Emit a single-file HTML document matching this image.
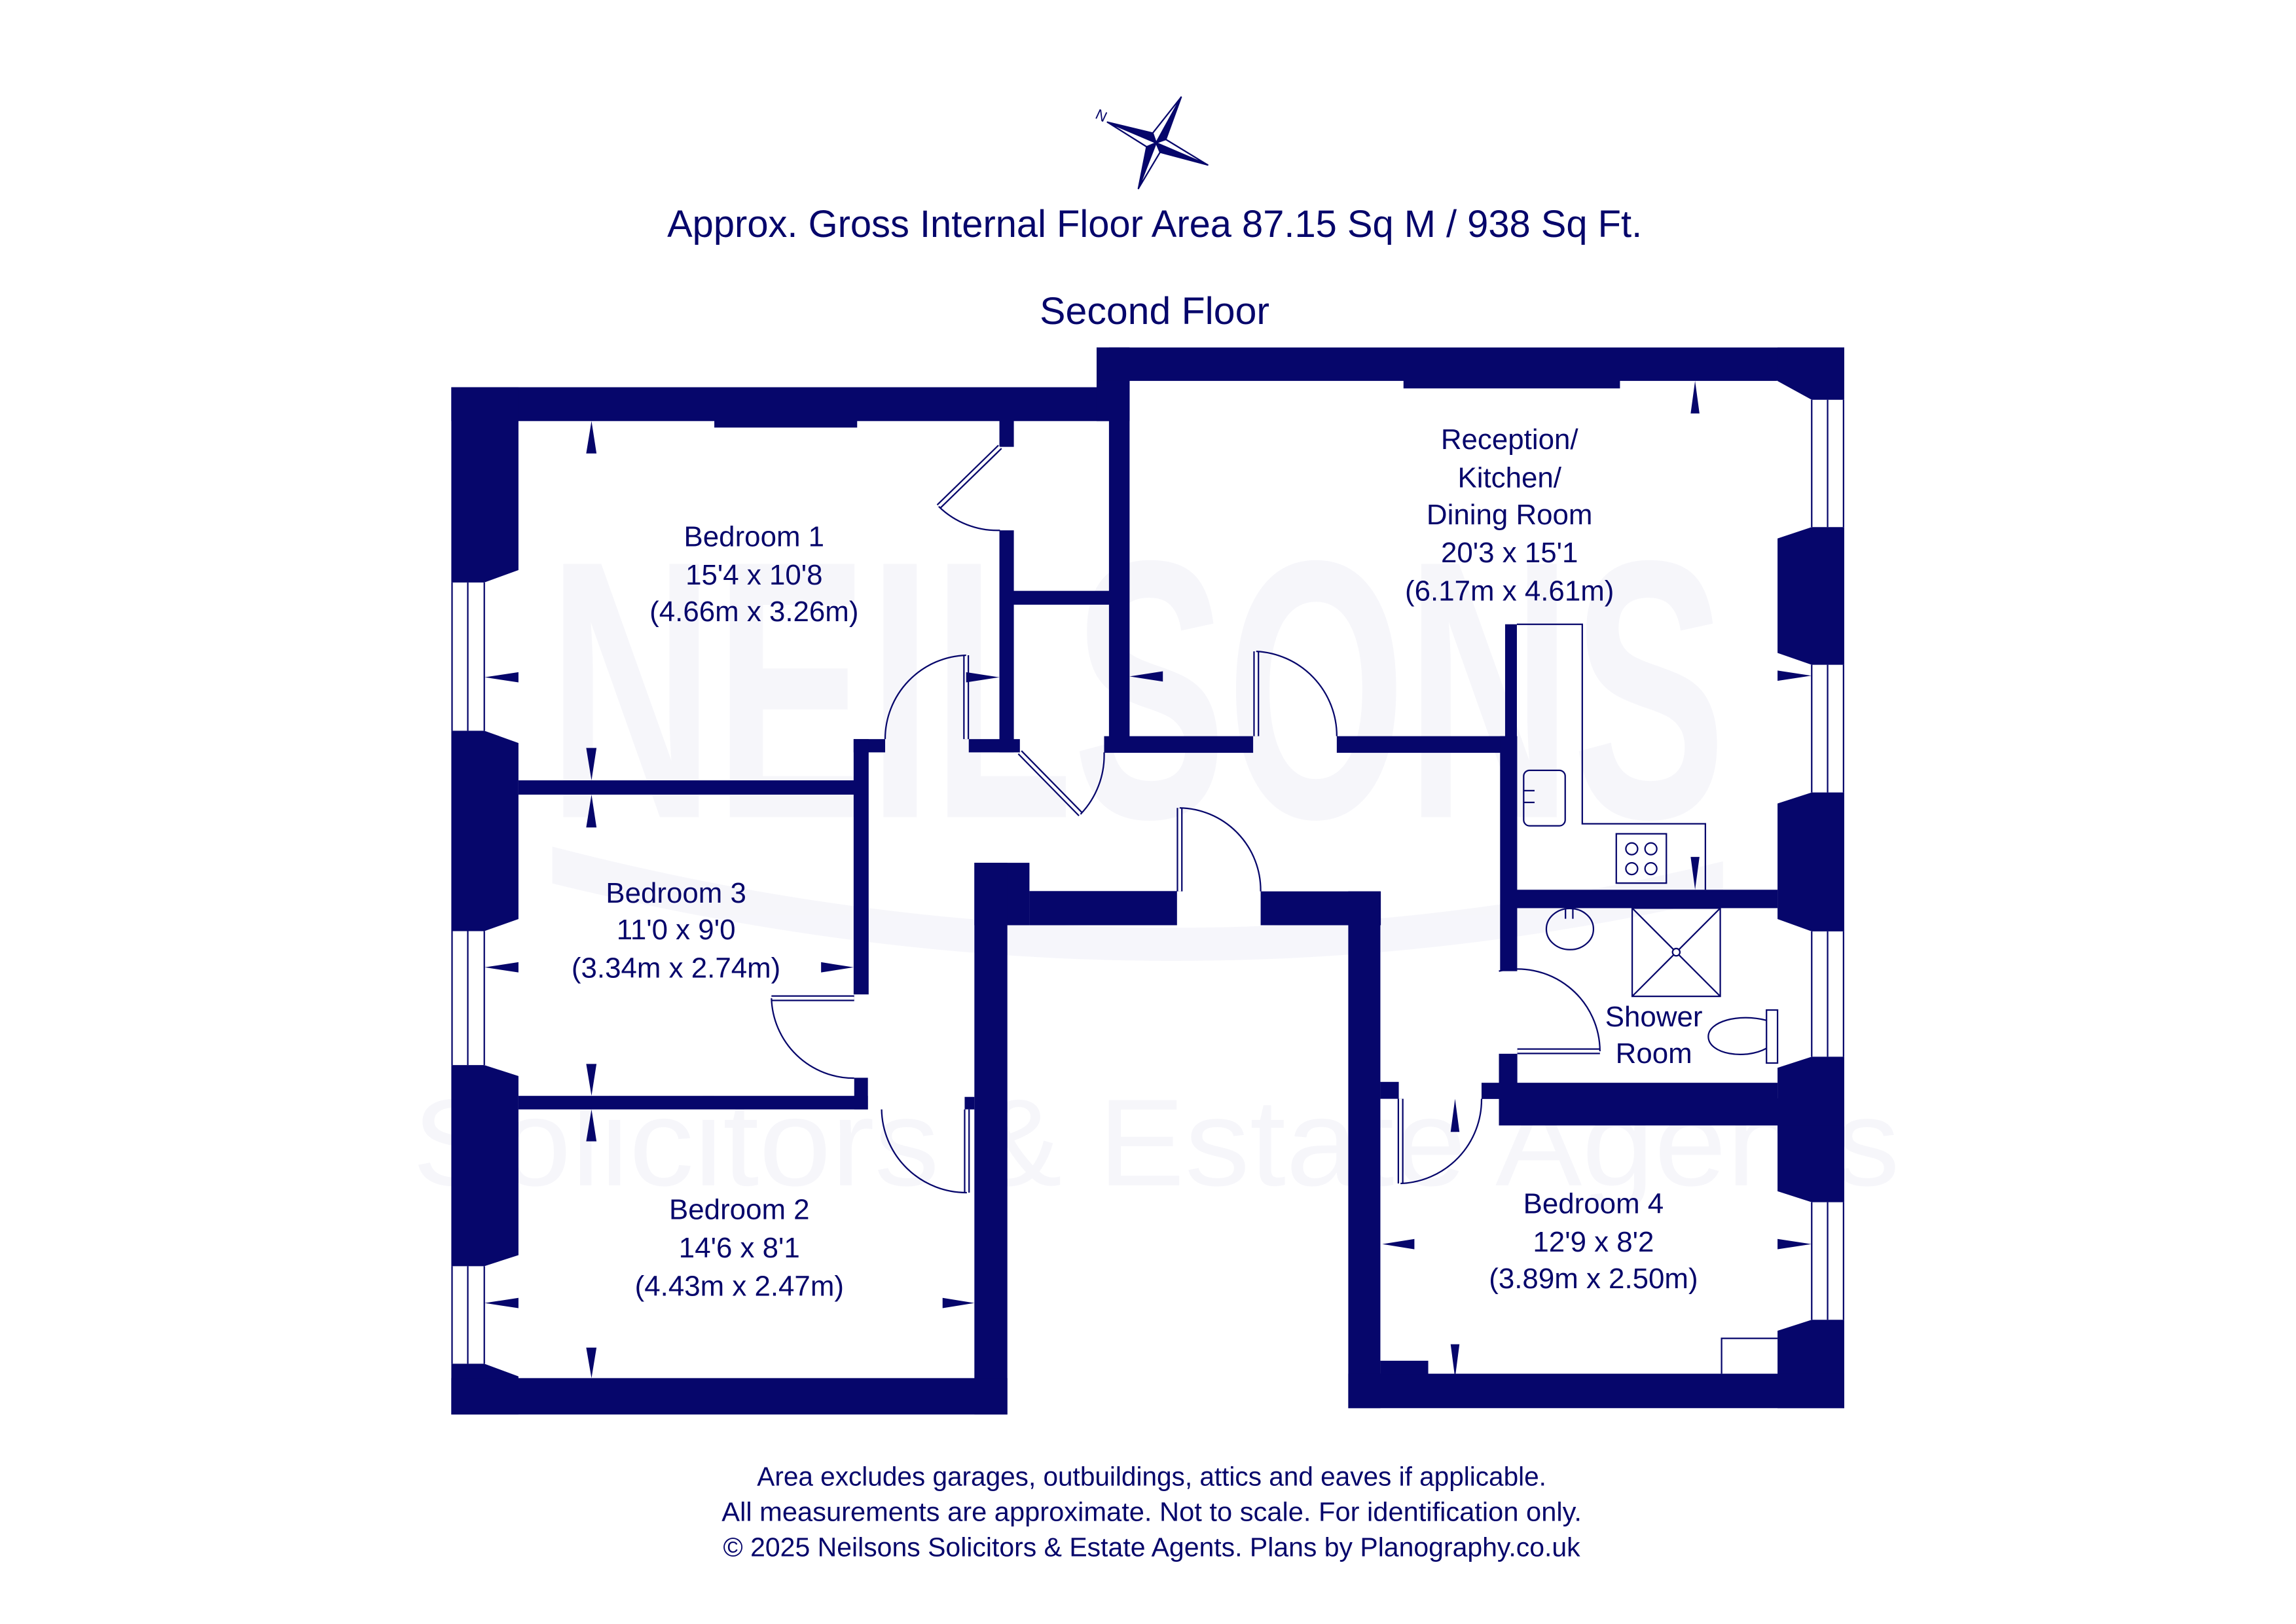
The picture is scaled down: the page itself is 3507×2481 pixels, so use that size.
<!DOCTYPE html>
<html><head><meta charset="utf-8"><style>
html,body{margin:0;padding:0;background:#fff}
svg{display:block}
text{font-family:"Liberation Sans",sans-serif;fill:#06066b}
</style></head><body>
<svg width="3507" height="2481" viewBox="0 0 1559 1103" xmlns="http://www.w3.org/2000/svg">
<rect width="1559" height="1103" fill="#fff"/>
<!-- watermark -->
<g opacity="0.45">
<path d="M375 575 Q780 680 1170 585 L1170 610 Q780 700 375 600 Z" fill="#ececf6"/>
<text x="372" y="555" font-size="250" font-weight="bold" textLength="800" lengthAdjust="spacingAndGlyphs" style="fill:#ececf6">NEILSONS</text>
<text x="280" y="805" font-size="84" textLength="1010" lengthAdjust="spacingAndGlyphs" style="fill:#ececf6">Solicitors &amp; Estate Agents</text>
</g>
<!-- compass -->
<g stroke="#06066b" stroke-width="1" stroke-linejoin="round">
<polygon points="785,97 802,66 791.6,94.7" fill="#06066b"/>
<polygon points="785,97 802,66 782.7,90.4" fill="#fff"/>
<polygon points="785,97 820,112 787.7,103.4" fill="#06066b"/>
<polygon points="785,97 820,112 791.6,94.7" fill="#fff"/>
<polygon points="785,97 773,128 778.6,99.7" fill="#06066b"/>
<polygon points="785,97 773,128 787.7,103.4" fill="#fff"/>
<polygon points="785,97 752,83 782.7,90.4" fill="#06066b"/>
<polygon points="785,97 752,83 778.6,99.7" fill="#fff"/>
</g>
<text x="744" y="82" font-size="10" transform="rotate(25 748 79)">N</text>
<text x="784" y="161" font-size="26" text-anchor="middle" textLength="662" lengthAdjust="spacingAndGlyphs">Approx. Gross Internal Floor Area 87.15 Sq M / 938 Sq Ft.</text>
<text x="784" y="220" font-size="26" text-anchor="middle" textLength="156" lengthAdjust="spacingAndGlyphs">Second Floor</text>

<!-- walls -->
<g fill="#06066b">
<rect x="306.4" y="263" width="446.6" height="23"/>
<rect x="744.6" y="236" width="22.4" height="50"/>
<rect x="753" y="236" width="14" height="275"/>
<rect x="744.6" y="236" width="507.7" height="22.7"/>
<rect x="485" y="285" width="97" height="5.4"/>
<rect x="953" y="258" width="147" height="5.8"/>
<rect x="306.4" y="263" width="45.6" height="697.7"/>
<rect x="1207" y="236" width="45.3" height="720.4"/>
<rect x="678.6" y="285" width="9.8" height="18.5"/>
<rect x="678.6" y="360.2" width="9.8" height="150.8"/>
<rect x="688" y="401.3" width="66" height="9.4"/>
<rect x="657.8" y="502" width="34.7" height="9"/>
<rect x="579.6" y="502" width="21.4" height="9"/>
<rect x="579.6" y="502" width="10.2" height="173.4"/>
<rect x="749.7" y="500" width="101.2" height="11.3"/>
<rect x="907.7" y="500" width="122.3" height="11.3"/>
<rect x="1022" y="424" width="8" height="80"/>
<rect x="1018.6" y="500" width="11.6" height="159.6"/>
<rect x="1017.8" y="715.7" width="12.5" height="31"/>
<rect x="1030" y="604.3" width="177" height="12.5"/>
<rect x="352" y="530" width="237" height="9.7"/>
<rect x="352" y="744.3" width="237.3" height="9.2"/>
<rect x="580" y="732" width="9.3" height="21.5"/>
<rect x="655" y="745" width="6.6" height="8.5"/>
<rect x="661.6" y="586" width="37.4" height="42.4"/>
<rect x="699" y="605.2" width="100.2" height="23.2"/>
<rect x="661.6" y="586" width="22.4" height="374.7"/>
<rect x="306.4" y="936" width="377.6" height="24.7"/>
<rect x="856" y="605.4" width="81.6" height="23"/>
<rect x="915.5" y="605.4" width="21.8" height="351"/>
<rect x="915.5" y="933" width="336.8" height="23.4"/>
<rect x="937.3" y="924.2" width="32.5" height="9"/>
<rect x="937.3" y="734.8" width="12.5" height="11.5"/>
<rect x="1006" y="735.4" width="201" height="11"/>
<rect x="1017.8" y="746" width="234.5" height="18.4"/>
</g>
<!-- windows -->
<g fill="#fff" stroke="none">
<polygon points="306,395.6 328.8,395.6 352.5,387 352.5,504.8 328.8,496.3 306,496.3"/>
<polygon points="306,632.4 328.8,632.4 352.5,624 352.5,731 328.8,723.4 306,723.4"/>
<polygon points="306,860 328.8,860 352.5,852.3 352.5,935 328.8,926.2 306,926.2"/>
<polygon points="1253,271.5 1230.2,271.5 1206.5,258.5 1206.5,365.9 1230.2,358 1253,358"/>
<polygon points="1253,451.5 1230.2,451.5 1206.5,443.3 1206.5,545.9 1230.2,538.2 1253,538.2"/>
<polygon points="1253,632.6 1230.2,632.6 1206.5,624 1206.5,725.4 1230.2,717.7 1253,717.7"/>
<polygon points="1253,816.5 1230.2,816.5 1206.5,808.9 1206.5,904 1230.2,896.4 1253,896.4"/>
</g>
<g stroke="#06066b" stroke-width="1" fill="none">
<path d="M306.9 395.6V496.3M317.6 395.6V496.3M328.8 395.6V496.3"/>
<path d="M306.9 632.4V723.4M317.6 632.4V723.4M328.8 632.4V723.4"/>
<path d="M306.9 860V926.2M317.6 860V926.2M328.8 860V926.2"/>
<path d="M1251.8 271.5V358M1241 271.5V358M1230.2 271.5V358"/>
<path d="M1251.8 451.5V538.2M1241 451.5V538.2M1230.2 451.5V538.2"/>
<path d="M1251.8 632.6V717.7M1241 632.6V717.7M1230.2 632.6V717.7"/>
<path d="M1251.8 816.5V896.4M1241 816.5V896.4M1230.2 816.5V896.4"/>
</g>
<!-- doors -->
<g stroke="#06066b" fill="none">
<g stroke-width="4"><path d="M679 303.5L637.4 344M656 502V445M692.5 511L733.7 553M853 500V442.4M801 605.4V548.7M580 678H523.8M656.5 753.5V810M1030.3 714H1086.4M951 746.3V803.8"/></g>
<g stroke-width="2" stroke="#fff"><path d="M679 303.5L637.4 344M656 502V445M692.5 511L733.7 553M853 500V442.4M801 605.4V548.7M580 678H523.8M656.5 753.5V810M1030.3 714H1086.4M951 746.3V803.8"/></g>
<g stroke-width="1">
<path d="M637.4 344A57 57 0 0 0 679 360.2"/>
<path d="M656 445A57 57 0 0 0 601 502"/>
<path d="M733.7 553A58 58 0 0 0 749.7 511"/>
<path d="M853 442.4A57.5 57.5 0 0 1 907.7 500"/>
<path d="M801 548.7A56 56 0 0 1 856 605.4"/>
<path d="M523.8 678A56 56 0 0 0 580 732.3"/>
<path d="M598.6 753.5A57.5 57.5 0 0 0 656.5 810"/>
<path d="M1086.4 714A56 56 0 0 0 1017.8 659.6"/>
<path d="M951 803.8A57 57 0 0 0 1006 746.3"/>
<path d="M1030 424H1074.4V559.5H1158V604.3"/>
<rect x="1034.6" y="523.2" width="28.2" height="37.7" rx="4"/>
<path d="M1034.6 537H1042M1034.6 545H1042"/>
<rect x="1097.5" y="566.3" width="34" height="33.5"/>
<circle cx="1108" cy="576.5" r="4"/><circle cx="1121" cy="576.5" r="4"/>
<circle cx="1108" cy="590" r="4"/><circle cx="1121" cy="590" r="4"/>
<ellipse cx="1066" cy="631" rx="16" ry="14"/>
<path d="M1063 617V624M1068 617V624"/>
<rect x="1108.3" y="616.8" width="59.8" height="59.9"/>
<path d="M1108.3 616.8L1168.1 676.7M1168.1 616.8L1108.3 676.7"/>
<circle cx="1138.2" cy="646.7" r="2.5" fill="#fff"/>
<rect x="1199.5" y="686" width="7.5" height="36"/>
<path d="M1199.5 693C1180 688 1160 694 1160 704C1160 716 1185 720 1199.5 712"/>
<path d="M1207 909H1169V933"/>
</g>
</g>
<!-- dimension arrows -->
<g fill="#06066b">
<polygon points="401.6,286 398,308 405,308"/>
<polygon points="401.6,530 398,508 405,508"/>
<polygon points="401.6,539.7 398,562 405,562"/>
<polygon points="401.6,744.3 398,722.6 405,722.6"/>
<polygon points="401.6,753.5 398,775.2 405,775.2"/>
<polygon points="401.6,936 398,915.3 405,915.3"/>
<polygon points="329,460 352,456.5 352,463.5"/>
<polygon points="678.6,460 656,456.5 656,463.5"/>
<polygon points="767,459.4 789.6,455.9 789.6,462.9"/>
<polygon points="1230,458.9 1207,455.4 1207,462.4"/>
<polygon points="1151,258.7 1148,280.8 1154,280.8"/>
<polygon points="1151,604.3 1148,582 1154,582"/>
<polygon points="329,657 352,653.5 352,660.5"/>
<polygon points="579.6,657 557.5,653.5 557.5,660.5"/>
<polygon points="329,885 352,881.5 352,888.5"/>
<polygon points="661.6,885 640,881.5 640,888.5"/>
<polygon points="938.6,845 960.4,841.5 960.4,848.5"/>
<polygon points="1230,845 1207,841.5 1207,848.5"/>
<polygon points="988,746.3 985,768.8 991,768.8"/>
<polygon points="988,936 985,913 991,913"/>
</g>
<!-- labels -->
<g font-size="19.5" text-anchor="middle">
<text x="512" y="371">Bedroom 1</text>
<text x="512" y="397">15'4 x 10'8</text>
<text x="512" y="422">(4.66m x 3.26m)</text>
<text x="1025" y="305">Reception/</text>
<text x="1025" y="331">Kitchen/</text>
<text x="1025" y="356">Dining Room</text>
<text x="1025" y="382">20'3 x 15'1</text>
<text x="1025" y="408">(6.17m x 4.61m)</text>
<text x="459" y="613">Bedroom 3</text>
<text x="459" y="638">11'0 x 9'0</text>
<text x="459" y="664">(3.34m x 2.74m)</text>
<text x="502" y="828">Bedroom 2</text>
<text x="502" y="854">14'6 x 8'1</text>
<text x="502" y="880">(4.43m x 2.47m)</text>
<text x="1082" y="824">Bedroom 4</text>
<text x="1082" y="850">12'9 x 8'2</text>
<text x="1082" y="875">(3.89m x 2.50m)</text>
<text x="1123" y="697">Shower</text>
<text x="1123" y="722">Room</text>
</g>
<g font-size="18" text-anchor="middle">
<text x="782" y="1009" textLength="536" lengthAdjust="spacingAndGlyphs">Area excludes garages, outbuildings, attics and eaves if applicable.</text>
<text x="782" y="1033" textLength="584" lengthAdjust="spacingAndGlyphs">All measurements are approximate. Not to scale. For identification only.</text>
<text x="782" y="1057" textLength="582" lengthAdjust="spacingAndGlyphs">© 2025 Neilsons Solicitors &amp; Estate Agents. Plans by Planography.co.uk</text>
</g>
</svg>
</body></html>
